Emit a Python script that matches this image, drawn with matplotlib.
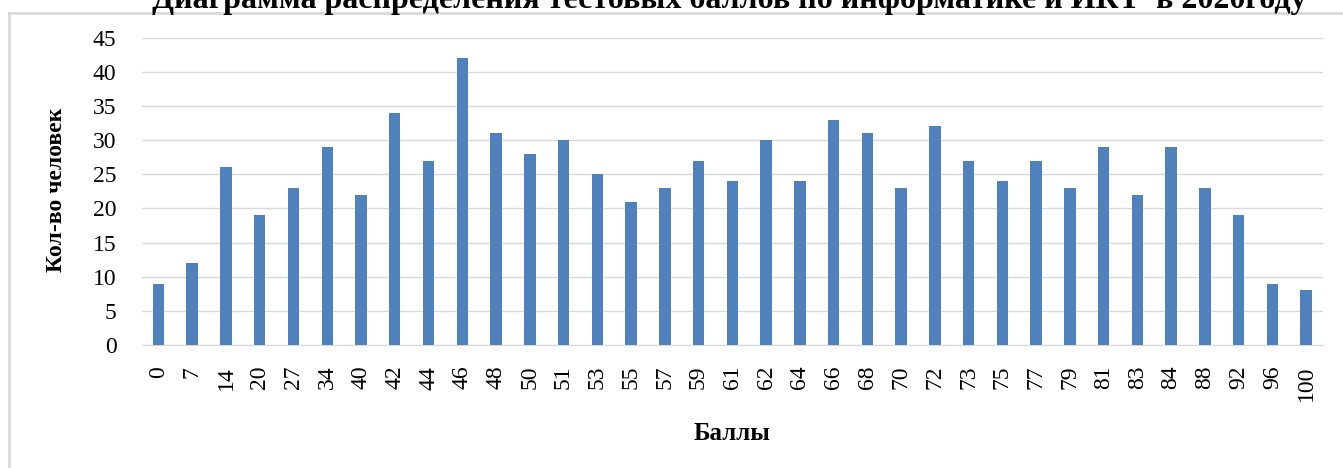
import matplotlib
matplotlib.use("Agg")
import matplotlib.pyplot as plt
from matplotlib.lines import Line2D

# data
scores = ["0", "7", "14", "20", "27", "34", "40", "42", "44", "46", "48", "50",
          "51", "53", "55", "57", "59", "61", "62", "64", "66", "68", "70", "72",
          "73", "75", "77", "79", "81", "83", "84", "88", "92", "96", "100"]
counts = [9, 12, 26, 19, 23, 29, 22, 34, 27, 42, 31, 28,
          30, 25, 21, 23, 27, 24, 30, 24, 33, 31, 23, 32,
          27, 24, 27, 23, 29, 22, 29, 23, 19, 9, 8]
yticks = [0, 5, 10, 15, 20, 25, 30, 35, 40, 45]

title = "Диаграмма распределения тестовых баллов по информатике и ИКТ  в 2020году"
xlabel = "Баллы"
ylabel = "Кол-во человек"

W, H = 1343, 468
plt.rcParams['font.family'] = ['Liberation Serif', 'DejaVu Serif']

fig = plt.figure(figsize=(W / 100, H / 100), dpi=100)
ax = fig.add_axes([141.6 / W, 1 - 345 / H, (1323 - 141.6) / W, (345 - 37.7) / H])

x = range(len(scores))
ax.bar(x, counts, width=0.34, color="#4F81BD", zorder=3)

ax.set_xlim(-0.5, len(scores) - 0.5)
ax.set_ylim(0, 45)
ax.set_yticks(yticks)
ax.set_xticks(list(x))
ax.set_xticklabels(scores, rotation=90, fontsize=17)
ax.tick_params(axis='y', labelsize=17, length=0, pad=18)
ax.tick_params(axis='x', length=0, pad=15)
ax.grid(axis='y', color="#D9D9D9", linewidth=1, zorder=0)
for s in ["top", "right", "left"]:
    ax.spines[s].set_visible(False)
ax.spines["bottom"].set_color("#D9D9D9")

# axis titles
fig.text(56 / W, 1 - 190 / H, ylabel, rotation=90, ha='center', va='center',
         fontsize=17, fontweight='bold')
fig.text(732 / W, 1 - 434 / H, xlabel, ha='center', va='center',
         fontsize=18, fontweight='bold')
# title, cut off at the top like in the source
fig.text(729 / W, 1 - 8 / H, title, ha='center', va='baseline',
         fontsize=23, fontweight='bold')

# chart frame (only top and left edges visible)
fig.add_artist(Line2D([9 / W, 9 / W], [0, 1 - 12.5 / H], transform=fig.transFigure,
                      color="#D9D9D9", linewidth=2))
fig.add_artist(Line2D([9 / W, 1], [1 - 12.5 / H, 1 - 12.5 / H], transform=fig.transFigure,
                      color="#D9D9D9", linewidth=2))

fig.savefig("out.png", dpi=100)
